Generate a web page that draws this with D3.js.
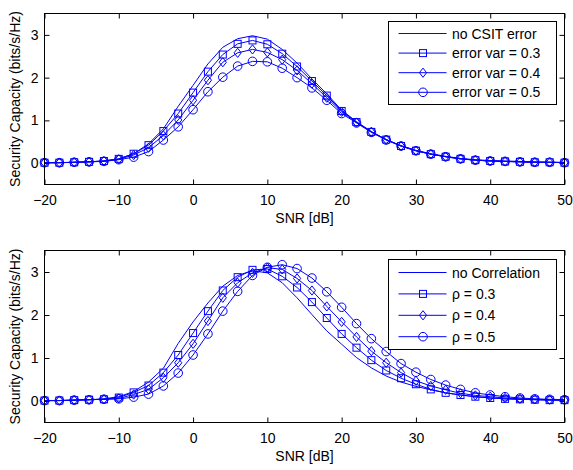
<!DOCTYPE html>
<html><head><meta charset="utf-8">
<script src="https://cdn.jsdelivr.net/npm/d3@7"></script>
<style>
body{margin:0;background:#fff;}
text{font-family:"Liberation Sans",Arial,Helvetica,sans-serif;}
</style></head>
<body><svg id="chart" width="573" height="470"></svg>
<script>
// ---------- DATA ----------
const snr = [-20,-18,-16,-14,-12,-10,-8,-6,-4,-2,0,2,4,6,8,10,12,14,16,18,20,22,24,26,28,30,32,34,36,38,40,42,44,46,48,50];
const xTicks = [-20,-10,0,10,20,30,40,50];
const yTicks = [0,1,2,3];
const xLabel = "SNR [dB]";
const yLabel = "Security Capacity (bits/s/Hz)";

// Top panel
const noCsitErr = [0.01,0.01,0.02,0.03,0.05,0.10,0.22,0.45,0.80,1.33,1.82,2.32,2.71,2.91,2.98,2.90,2.66,2.34,1.97,1.62,1.24,0.97,0.74,0.55,0.41,0.30,0.22,0.16,0.11,0.08,0.06,0.05,0.04,0.03,0.02,0.02];
const errVar03 = [0.01,0.01,0.02,0.03,0.05,0.10,0.22,0.42,0.75,1.16,1.65,2.14,2.54,2.79,2.87,2.78,2.56,2.26,1.92,1.58,1.22,0.96,0.73,0.55,0.40,0.29,0.21,0.15,0.10,0.07,0.05,0.04,0.03,0.02,0.02,0.01];
const errVar04 = [0.01,0.01,0.02,0.03,0.05,0.09,0.19,0.36,0.65,1.01,1.47,1.94,2.36,2.58,2.66,2.59,2.42,2.17,1.86,1.53,1.20,0.95,0.73,0.55,0.40,0.29,0.21,0.15,0.10,0.07,0.05,0.04,0.03,0.02,0.02,0.01];
const errVar05 = [0.01,0.01,0.02,0.03,0.04,0.08,0.14,0.27,0.54,0.85,1.25,1.67,2.01,2.27,2.38,2.37,2.22,2.00,1.76,1.47,1.16,0.94,0.72,0.54,0.40,0.29,0.21,0.15,0.10,0.07,0.05,0.04,0.03,0.02,0.02,0.01];
const topNames = ["no CSIT error","error var = 0.3","error var = 0.4","error var = 0.5"];

// Bottom panel
const noCorr = [0.01,0.01,0.02,0.03,0.05,0.10,0.22,0.44,0.76,1.34,1.84,2.28,2.67,2.92,3.03,2.98,2.75,2.40,2.01,1.63,1.32,1.01,0.77,0.58,0.44,0.34,0.26,0.19,0.14,0.10,0.07,0.05,0.04,0.03,0.02,0.02];
const rho03 = [0.01,0.01,0.02,0.03,0.04,0.08,0.20,0.36,0.66,1.07,1.58,2.09,2.57,2.88,3.05,3.07,2.90,2.64,2.30,1.93,1.56,1.24,0.95,0.71,0.53,0.39,0.27,0.19,0.14,0.10,0.07,0.05,0.04,0.03,0.02,0.02];
const rho04 = [0.01,0.01,0.02,0.03,0.04,0.06,0.15,0.27,0.54,0.89,1.33,1.86,2.40,2.75,2.98,3.10,3.06,2.85,2.57,2.20,1.84,1.49,1.16,0.89,0.66,0.47,0.35,0.26,0.18,0.13,0.10,0.07,0.05,0.04,0.03,0.02];
const rho05 = [0.01,0.01,0.02,0.03,0.04,0.05,0.09,0.16,0.35,0.65,1.07,1.56,2.09,2.55,2.92,3.11,3.17,3.08,2.86,2.54,2.18,1.80,1.45,1.15,0.87,0.67,0.50,0.37,0.27,0.19,0.14,0.10,0.07,0.05,0.04,0.03];
const botNames = ["no Correlation","\u03c1 = 0.3","\u03c1 = 0.4","\u03c1 = 0.5"];

const markers = ["none","square","diamond","circle"];

// ---------- DRAW ----------
const svg = d3.select("#chart");
const BLUE = "#0000ff";
const FS = "14px";

function drawMarker(g, type, x, y){
  if(type==="square"){
    g.append("rect").attr("x",x-3.5).attr("y",y-3.5).attr("width",7).attr("height",7)
      .attr("fill","none").attr("stroke",BLUE).attr("stroke-width",1);
  } else if(type==="diamond"){
    g.append("path").attr("d",`M${x},${y-4.6}L${x+3.6},${y}L${x},${y+4.6}L${x-3.6},${y}Z`)
      .attr("fill","none").attr("stroke",BLUE).attr("stroke-width",1);
  } else if(type==="circle"){
    g.append("circle").attr("cx",x).attr("cy",y).attr("r",4.3)
      .attr("fill","none").attr("stroke",BLUE).attr("stroke-width",1);
  }
}

function panel(box, seriesList, names, legendBox, rowGap){
  const x = d3.scaleLinear().domain([-20,50]).range([box.l, box.r]);
  const y = d3.scaleLinear().domain([-0.5,3.5]).range([box.b, box.t]);
  const g = svg.append("g");
  g.append("rect").attr("x",box.l).attr("y",box.t).attr("width",box.r-box.l).attr("height",box.b-box.t).attr("fill","#fff");

  const line = d3.line().x((d,i)=>x(snr[i])).y(d=>y(d));
  seriesList.forEach((s,k)=>{
    g.append("path").attr("d",line(s)).attr("fill","none").attr("stroke",BLUE).attr("stroke-width",1);
    if(markers[k]!=="none"){
      s.forEach((v,i)=>drawMarker(g, markers[k], x(snr[i]), y(v)));
    }
  });

  // axes (MATLAB style box with inward ticks)
  const tl = 5;
  const axB = g.append("g").attr("transform",`translate(0,${box.b})`)
    .call(d3.axisBottom(x).tickValues(xTicks).tickSizeInner(-tl).tickSizeOuter(0).tickPadding(11)
      .tickFormat(d=>d<0?"\u2212"+Math.abs(d):String(d)));
  const axT = g.append("g").attr("transform",`translate(0,${box.t})`)
    .call(d3.axisTop(x).tickValues(xTicks).tickSizeInner(-tl).tickSizeOuter(0).tickFormat(""));
  const axL = g.append("g").attr("transform",`translate(${box.l},0)`)
    .call(d3.axisLeft(y).tickValues(yTicks).tickSizeInner(-tl).tickSizeOuter(0).tickPadding(6)
      .tickFormat(d3.format("d")));
  const axR = g.append("g").attr("transform",`translate(${box.r},0)`)
    .call(d3.axisRight(y).tickValues(yTicks).tickSizeInner(-tl).tickSizeOuter(0).tickFormat(""));
  [axB,axT,axL,axR].forEach(a=>{
    a.select(".domain").remove();
    a.selectAll("line").attr("stroke","#000");
    a.selectAll("text").attr("fill","#000").style("font-size",FS).style("font-family",'"Liberation Sans",Arial,sans-serif');
  });
  g.append("rect").attr("x",box.l).attr("y",box.t).attr("width",box.r-box.l).attr("height",box.b-box.t)
    .attr("fill","none").attr("stroke","#000").attr("stroke-width",1);

  // labels
  g.append("text").attr("x",(box.l+box.r)/2).attr("y",box.b+38).attr("text-anchor","middle")
    .style("font-size",FS).text(xLabel);
  g.append("text").attr("transform",`translate(15,${(box.t+box.b)/2}) rotate(-90)`)
    .attr("text-anchor","middle").attr("dy","0.35em").style("font-size",FS).text(yLabel);

  // legend
  const lg = g.append("g");
  lg.append("rect").attr("x",legendBox.l).attr("y",legendBox.t).attr("width",legendBox.r-legendBox.l)
    .attr("height",legendBox.b-legendBox.t).attr("fill","#fff").attr("stroke","#000").attr("stroke-width",1);
  names.forEach((n,k)=>{
    const yy = legendBox.firstRow + k*rowGap;
    lg.append("line").attr("x1",legendBox.l+10).attr("x2",legendBox.l+58).attr("y1",yy).attr("y2",yy)
      .attr("stroke",BLUE).attr("stroke-width",1);
    drawMarker(lg, markers[k], legendBox.l+34.5, yy);
    lg.append("text").attr("x",legendBox.l+63.5).attr("y",yy).attr("dy","0.36em")
      .style("font-size",FS).attr("fill","#000").text(n);
  });
}

panel({l:44.5,r:564.5,t:13.5,b:184.5},[noCsitErr,errVar03,errVar04,errVar05],topNames,
      {l:388.5,r:556.5,t:21.5,b:104.5,firstRow:33.5},19.6);
panel({l:44.5,r:564.5,t:250.5,b:422.5},[noCorr,rho03,rho04,rho05],botNames,
      {l:388.5,r:556.5,t:259.5,b:349.5,firstRow:272.5},21.4);
</script>
</body></html>
